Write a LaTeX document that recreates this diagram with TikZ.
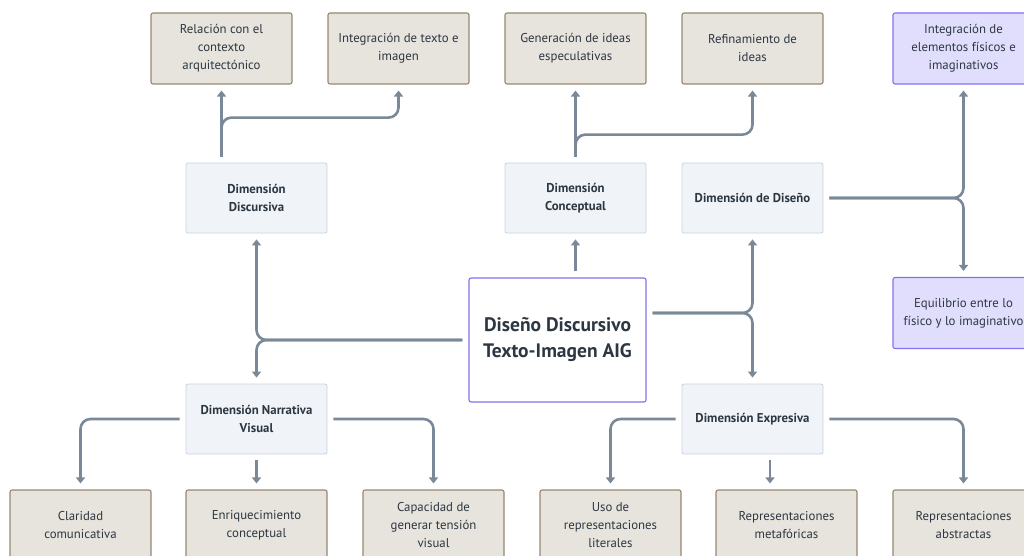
\documentclass[tikz,border=0pt]{standalone}
\usepackage{fontspec}
\setmainfont{PT Sans}
\usepackage{xcolor}
\definecolor{linegray}{RGB}{122,137,152}
\definecolor{inkdark}{RGB}{45,55,66}
\definecolor{leaffill}{RGB}{231,227,221}
\definecolor{leafdraw}{RGB}{150,136,112}
\definecolor{dimfill}{RGB}{240,244,248}
\definecolor{dimdraw}{RGB}{200,210,220}
\definecolor{lavfill}{RGB}{224,222,252}
\definecolor{lavdraw}{RGB}{128,114,240}
\usetikzlibrary{arrows.meta, positioning, calc}
\tikzset{
  leaf/.style={
    rectangle, draw=leafdraw, fill=leaffill, line width=1.1pt,
    minimum width=141pt, minimum height=71pt,
    align=center, rounded corners=2pt, text=inkdark,
    font=\fontsize{12.8}{18}\selectfont},
  lavleaf/.style={leaf, draw=lavdraw, fill=lavfill},
  dimbox/.style={
    rectangle, draw=dimdraw, fill=dimfill, line width=0.8pt,
    minimum width=141pt, minimum height=70pt,
    align=center, rounded corners=2pt, text=inkdark,
    font=\fontsize{12.8}{18.5}\selectfont\bfseries},
  corebox/.style={
    rectangle, draw=lavdraw, fill=white, line width=1.1pt,
    minimum width=177pt, minimum height=124pt,
    align=center, rounded corners=2pt, text=inkdark,
    font=\fontsize{19.5}{26}\selectfont\bfseries},
  conn/.style={-{Triangle[length=6pt,width=9pt]}, line width=2.6pt,
    linegray, rounded corners=10pt, shorten <=6pt, shorten >=6pt},
}
\begin{document}
\begin{tikzpicture}[x=1pt, y=-1pt]
  \useasboundingbox (0,0) rectangle (1024,556);
  % centre
  \node[corebox] (core) at (557.5,340) {Diseño Discursivo\\Texto-Imagen AIG};
  % dimensions
  \node[dimbox] (disc) at (256.5,198) {Dimensión\\Discursiva};
  \node[dimbox] (conc) at (575.5,198) {Dimensión\\Conceptual};
  \node[dimbox] (dise) at (752.5,198) {Dimensión de Diseño};
  \node[dimbox] (narr) at (256.5,419) {Dimensión Narrativa\\Visual};
  \node[dimbox] (expr) at (752.5,419) {Dimensión Expresiva};
  % top row
  \node[leaf] (relc) at (221.5,48.5) {Relación con el\\contexto\\arquitectónico};
  \node[leaf] (intg) at (398.5,48.5) {Integración de texto e\\imagen};
  \node[leaf] (gene) at (575.5,48.5) {Generación de ideas\\especulativas};
  \node[leaf] (refi) at (752.5,48.5) {Refinamiento de\\ideas};
  \node[lavleaf] (inel) at (963.5,48.5) {Integración de\\elementos físicos e\\imaginativos};
  \node[lavleaf] (equi) at (963.5,313) {Equilibrio entre lo\\físico y lo imaginativo};
  % bottom row
  \node[leaf] (clar) at (80.5,525.5) {Claridad\\comunicativa};
  \node[leaf] (enri) at (256.5,525.5) {Enriquecimiento\\conceptual};
  \node[leaf] (capa) at (433.5,525.5) {Capacidad de\\generar tensión\\visual};
  \node[leaf] (usor) at (610.5,525.5) {Uso de\\representaciones\\literales};
  \node[leaf] (meta) at (786.5,525.5) {Representaciones\\metafóricas};
  \node[leaf] (abst) at (963.5,525.5) {Representaciones\\abstractas};

  % connectors
  \draw[conn] (core.west) -| (disc.south);
  \draw[conn] (core.west) -| (narr.north);
  \draw[conn] (conc.south |- core.north) -- (conc.south);
  \draw[conn] ([yshift=27pt]core.east) -| (dise.south);
  \draw[conn] ([yshift=27pt]core.east) -| (expr.north);
  \draw[conn] (relc.south |- disc.north) -- (relc.south);
  \draw[conn] (relc.south |- disc.north) -- ++(0,-45) -| (intg.south);
  \draw[conn] (conc.north) -- (gene.south);
  \draw[conn] (conc.north) -- ++(0,-28) -| (refi.south);
  \draw[conn] (dise.east) -| (inel.south);
  \draw[conn] (dise.east) -| (equi.north);
  \draw[conn] (narr.west) -| (clar.north);
  \draw[conn] (narr.south) -- (enri.north);
  \draw[conn] (narr.east) -| (capa.north);
  \draw[conn] (expr.west) -| (usor.north);
  \draw[conn] ([xshift=17.5pt]expr.south) -- ([xshift=-16.5pt]meta.north);
  \draw[conn] (expr.east) -| (abst.north);
\end{tikzpicture}
\end{document}
